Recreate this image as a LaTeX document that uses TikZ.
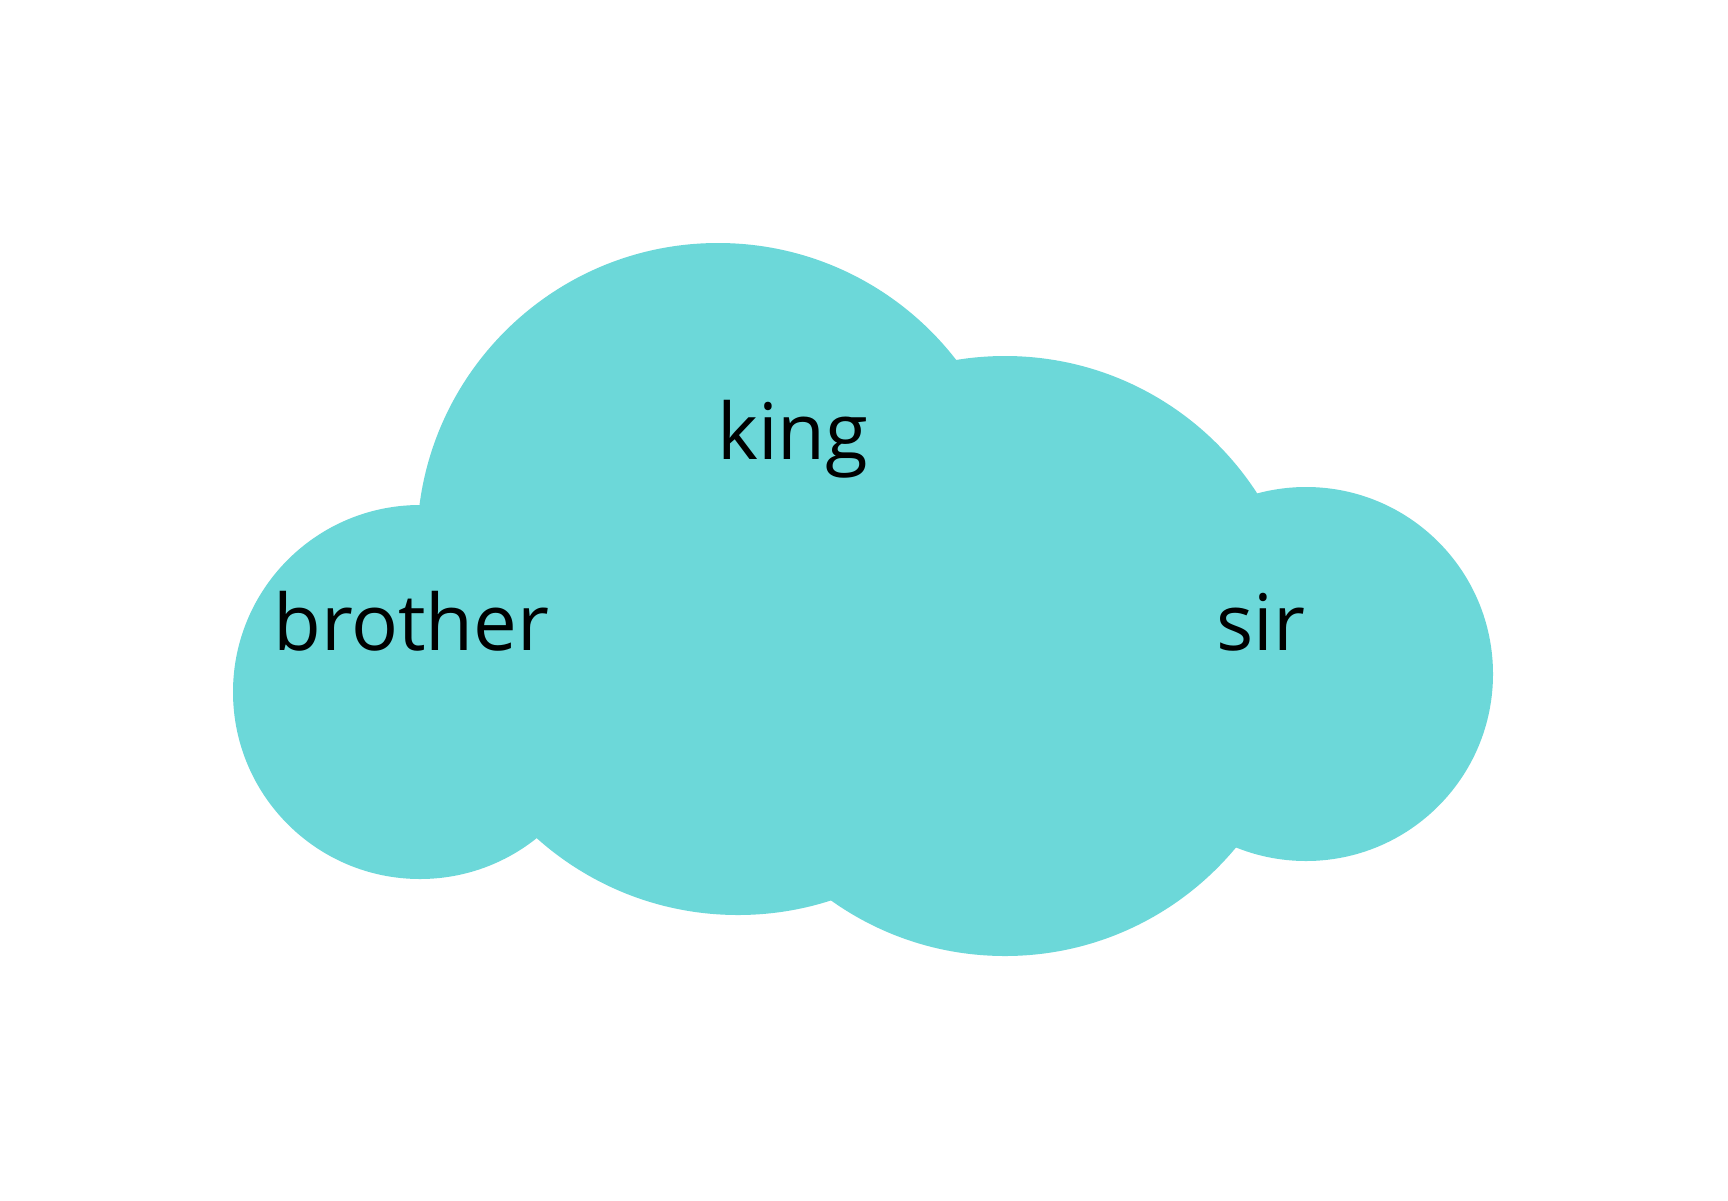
\documentclass[tikz,border=0pt]{standalone}
\usepackage{fontspec}
\setmainfont{Open Sans}
\definecolor{cloudcol}{HTML}{6CD8D9}
\begin{document}
\begin{tikzpicture}[x=1pt,y=-1pt,
  lobe/.style={fill=cloudcol,draw=none},
  word/.style={anchor=base west,inner sep=0pt,font=\fontsize{78}{78}\selectfont,text=black}]
\useasboundingbox (0,0) rectangle (1728,1200);
\fill[white] (0,0) rectangle (1728,1200);
\path[lobe] (420,692) circle[radius=187];
\path[lobe] (718,544) circle[radius=301];
\path[lobe] (738,613) circle[radius=302];
\path[lobe] (1005,656) circle[radius=300];
\path[lobe] (1306,674) circle[radius=187];
\node[word] (king) at (717,459) {king};
\node[word] (brother) at (273,650) {brother};
\node[word] (sir) at (1216,650) {sir};
\end{tikzpicture}
\end{document}
